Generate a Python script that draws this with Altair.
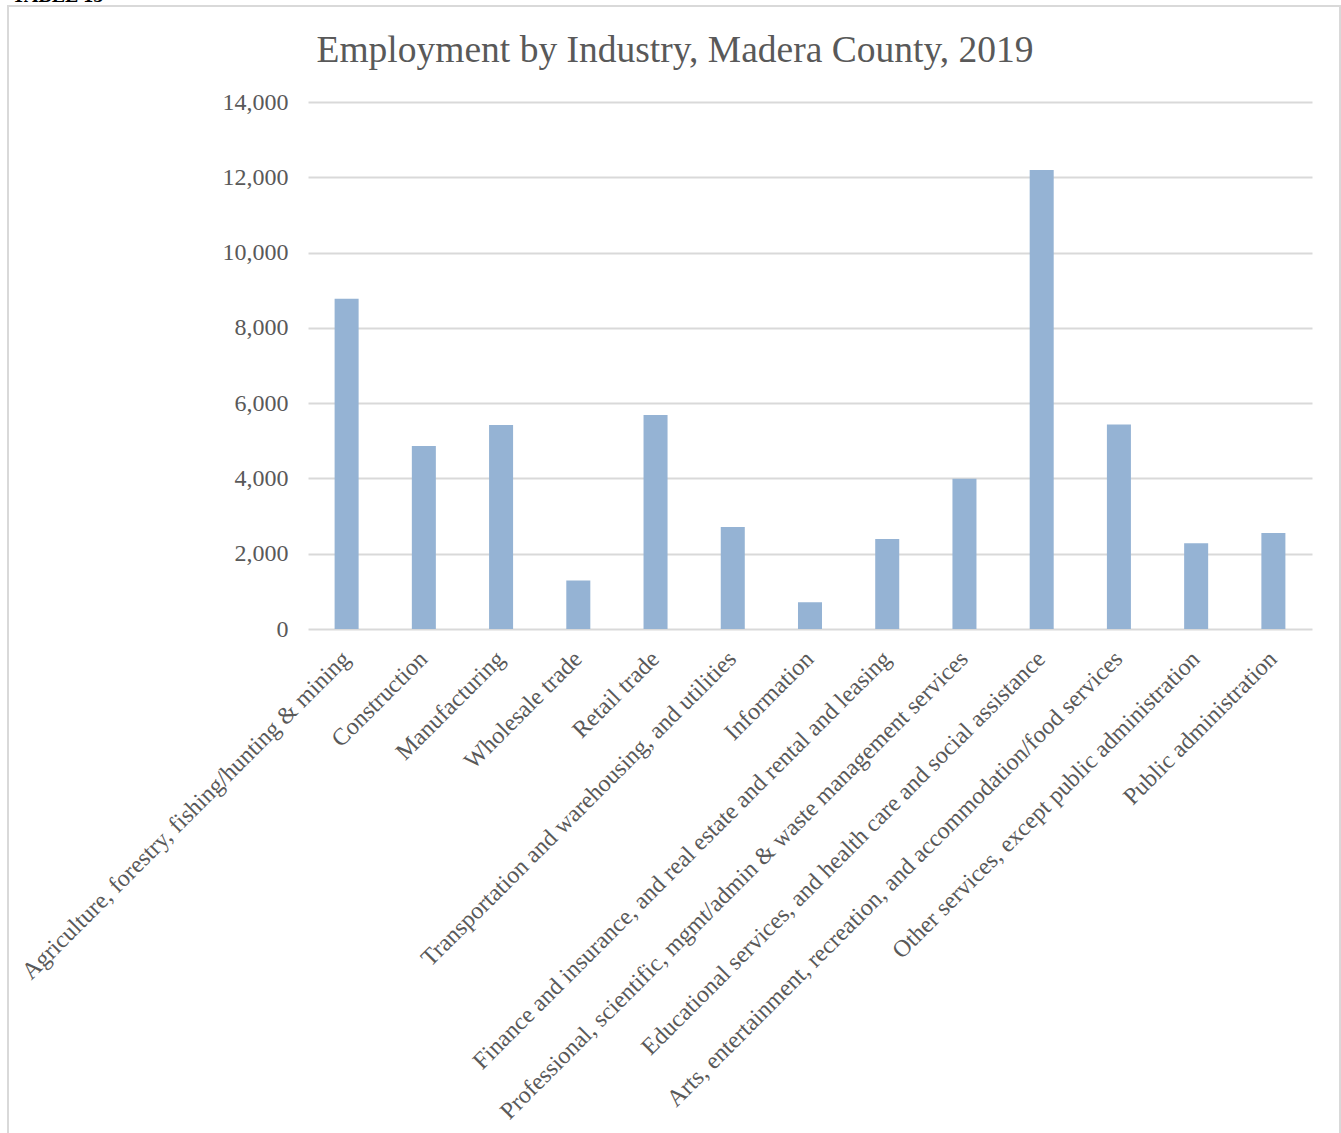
import altair as alt
import pandas as pd

categories = [
    "Agriculture, forestry, fishing/hunting & mining",
    "Construction",
    "Manufacturing",
    "Wholesale trade",
    "Retail trade",
    "Transportation and warehousing, and utilities",
    "Information",
    "Finance and insurance, and real estate and rental and leasing",
    "Professional, scientific, mgmt/admin & waste management services",
    "Educational services, and health care and social assistance",
    "Arts, entertainment, recreation, and accommodation/food services",
    "Other services, except public administration",
    "Public administration",
]
employment = [8770, 4860, 5420, 1290, 5685, 2710, 710, 2390, 3990, 12195, 5430, 2280, 2550]
y_ticks = [0, 2000, 4000, 6000, 8000, 10000, 12000, 14000]

title_text = "Employment by Industry, Madera County, 2019"
table_label = "TABLE 15"

df = pd.DataFrame({"industry": categories, "employment": employment})

FONT = "Liberation Serif"
GREY = "#595959"

bars = alt.Chart(df).mark_bar(color="#95b3d4").encode(
    x=alt.X(
        "industry:N",
        sort=categories,
        title=None,
        scale=alt.Scale(paddingInner=0.689, paddingOuter=0.3445),
        axis=alt.Axis(
            labelAngle=-45,
            labelAlign="right",
            labelBaseline="middle",
            labelFont=FONT,
            labelFontSize=24,
            labelColor=GREY,
            labelPadding=26,
            ticks=False,
            domain=False,
            labelLimit=0,
            labelOverlap=False,
        ),
    ),
    y=alt.Y(
        "employment:Q",
        title=None,
        scale=alt.Scale(domain=[0, 14000], nice=False),
        axis=alt.Axis(
            values=y_ticks,
            format=",.0f",
            labelFont=FONT,
            labelFontSize=24,
            labelColor=GREY,
            labelPadding=20,
            ticks=False,
            domain=False,
            gridColor="#d9d9d9",
            gridWidth=2,
        ),
    ),
)

deco = alt.Data(values=[{"t": table_label, "title": title_text}])

border = alt.Chart(deco).mark_rect(
    filled=False, stroke="#d9d9d9", strokeWidth=2
).encode(
    x=alt.value(-300), x2=alt.value(1032), y=alt.value(-96), y2=alt.value(1045)
)

label = alt.Chart(deco).mark_text(
    font=FONT, fontSize=20, fontWeight="bold", color="#000000",
    align="left", baseline="alphabetic"
).encode(text="t:N", x=alt.value(-296), y=alt.value(-100))

title = alt.Chart(deco).mark_text(
    font=FONT, fontSize=37.5, color=GREY, align="center", baseline="alphabetic"
).encode(text="title:N", x=alt.value(367), y=alt.value(-40))

chart = alt.layer(border, bars, label, title).properties(
    width=1004,
    height=527,
    autosize=alt.AutoSizeParams(type="none"),
    padding={"left": 308, "top": 102, "right": 29, "bottom": 504},
).configure_view(stroke=None)

chart.save("out.html", embed_options={"renderer": "svg", "actions": False})
